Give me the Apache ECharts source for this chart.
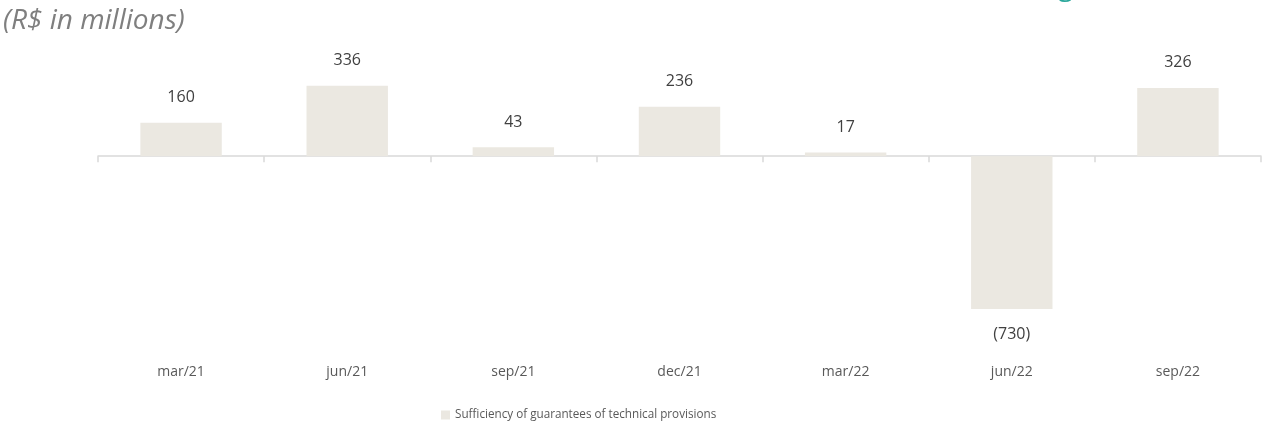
<!DOCTYPE html>
<html>
<head>
<meta charset="utf-8">
<script src="https://cdn.jsdelivr.net/npm/echarts@6/dist/echarts.min.js"></script>
<style>
  html, body { margin: 0; padding: 0; background: #fff; }
  #chart { width: 1265px; height: 433px; }
</style>
</head>
<body>
<div id="chart"></div>
<script>
// quarters and sufficiency values (R$ millions)
const categories = ['mar/21', 'jun/21', 'sep/21', 'dec/21', 'mar/22', 'jun/22', 'sep/22']
const values = [160, 336, 43, 236, 17, -730, 326]
const seriesName = 'Sufficiency of guarantees of technical provisions'

const fontFamily = '"Open Sans", "Noto Sans", sans-serif'
const barColor = '#ebe8e1'

const myChart = echarts.init(document.getElementById('chart'))

// negative bars get their label under the bar, in parentheses
const barData = values.map(v => ({
  value: v,
  label: { position: v < 0 ? 'bottom' : 'top' }
}))

const option = {
  animation: false,
  textStyle: { fontFamily: fontFamily },
  title: {
    text: '(R$ in millions)',
    left: -2,
    top: 2,
    textStyle: {
      fontFamily: fontFamily,
      fontStyle: 'italic',
      fontWeight: 'normal',
      fontSize: 28,
      color: '#7f7f7f'
    }
  },
  graphic: [{
    // tail of the page heading cut off above the picture
    type: 'text',
    left: 1058,
    top: -27,
    style: {
      text: 'g',
      fontFamily: fontFamily,
      fontSize: 28,
      fill: '#2aa79b'
    }
  }],
  legend: {
    bottom: 7,
    left: 436,
    itemWidth: 9,
    itemHeight: 9,
    itemGap: 8,
    icon: 'rect',
    textStyle: { fontSize: 11.7, color: '#595959', fontFamily: fontFamily },
    data: [seriesName]
  },
  grid: {
    left: 98,
    right: 4,
    top: 85,
    bottom: 124
  },
  xAxis: [{
    type: 'category',
    data: categories,
    axisLine: { onZero: true, lineStyle: { color: '#d9d9d9', width: 1.5 } },
    axisTick: { show: true, length: 6, lineStyle: { color: '#d9d9d9', width: 1.5 } },
    axisLabel: { show: false }
  }, {
    type: 'category',
    data: categories,
    position: 'bottom',
    axisLine: { show: false },
    axisTick: { show: false },
    axisLabel: { margin: 56, fontSize: 14, color: '#595959', fontFamily: fontFamily }
  }],
  yAxis: {
    type: 'value',
    min: -730,
    max: 340,
    show: false,
    splitLine: { show: false }
  },
  series: [{
    name: seriesName,
    type: 'bar',
    xAxisIndex: 0,
    barWidth: '49%',
    itemStyle: { color: barColor },
    data: barData,
    label: {
      show: true,
      distance: 17,
      fontSize: 16,
      color: '#404040',
      fontFamily: fontFamily,
      formatter: p => p.value < 0 ? '(' + Math.abs(p.value) + ')' : String(p.value)
    }
  }]
}

myChart.setOption(option)
window.addEventListener('resize', () => {
  myChart.resize()
})
</script>
</body>
</html>
